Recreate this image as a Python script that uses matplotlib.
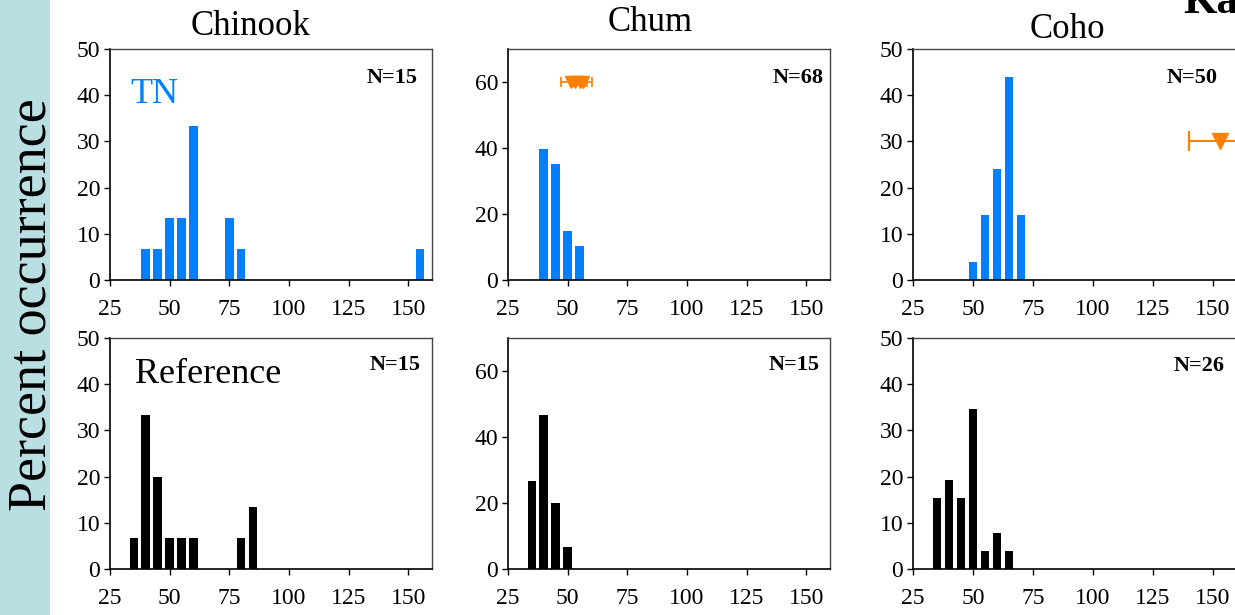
import matplotlib
matplotlib.use('Agg')
import matplotlib.pyplot as plt
from matplotlib.patches import Rectangle

plt.rcParams['font.family'] = ['Liberation Serif', 'DejaVu Serif']

W, H = 1235, 615
BLUE = '#0080ff'
ORANGE = '#ff8000'

# size classes (bin centres) and percent occurrence per species
chinook_tn_x = [40, 45, 50, 55, 60, 75, 80, 155]
chinook_tn_y = [6.67, 6.67, 13.33, 13.33, 33.33, 13.33, 6.67, 6.67]
chum_tn_x = [40, 45, 50, 55]
chum_tn_y = [39.7, 35.3, 14.7, 10.3]
coho_tn_x = [50, 55, 60, 65, 70]
coho_tn_y = [4, 14, 24, 44, 14]

chinook_ref_x = [35, 40, 45, 50, 55, 60, 80, 85]
chinook_ref_y = [6.67, 33.33, 20, 6.67, 6.67, 6.67, 6.67, 13.33]
chum_ref_x = [35, 40, 45, 50]
chum_ref_y = [26.67, 46.67, 20, 6.67]
coho_ref_x = [35, 40, 45, 50, 55, 60, 65]
coho_ref_y = [15.4, 19.2, 15.4, 34.6, 3.85, 7.7, 3.85]

n_tn = [15, 68, 50]
n_ref = [15, 15, 26]
species = ['Chinook', 'Chum', 'Coho']

# mean size +/- spread markers
chum_mean = [51.5, 53.0, 55.0, 56.5]
chum_err = [4.3, 2.0, 3.0, 3.8]
chum_level = [60, 60, 60, 60]
coho_mean = [153]
coho_err = [13]
coho_level = [30]

xticks = [25, 50, 75, 100, 125, 150]


def px(x, y):
    return x / W, 1 - y / H


def make_ax(fig, left, top, width, height):
    ax = fig.add_axes([left / W, 1 - (top + height) / H, width / W, height / H])
    ax.set_xlim(25, 160)
    ax.set_xticks(xticks)
    ax.tick_params(axis='both', direction='out', length=4, width=1, labelsize=17)
    ax.tick_params(axis='x', pad=10)
    ax.tick_params(axis='y', pad=3)
    ax.tick_params(top=False, right=False)
    for s in ['left', 'bottom']:
        ax.spines[s].set_linewidth(1.2)
        ax.spines[s].set_color('black')
    for s in ['top', 'right']:
        ax.spines[s].set_linewidth(1.0)
        ax.spines[s].set_color('#444444')
    return ax


fig = plt.figure(figsize=(W / 100, H / 100), dpi=100)

# side strip with the shared y label
fig.patches.append(Rectangle((0, 0), 50 / W, 1, transform=fig.transFigure,
                             facecolor='#b9dfe3', edgecolor='none', zorder=0))
fig.text(*px(32, 305), 'Percent occurrence', rotation=90, ha='center',
         va='center', fontsize=39)

lefts = [110, 508, 913]
widths = [322, 322, 324]
tops = [49, 338]
ah = 231

tn_data = [(chinook_tn_x, chinook_tn_y), (chum_tn_x, chum_tn_y), (coho_tn_x, coho_tn_y)]
ref_data = [(chinook_ref_x, chinook_ref_y), (chum_ref_x, chum_ref_y), (coho_ref_x, coho_ref_y)]
ylims = [50, 70, 50]
yticks = [[0, 10, 20, 30, 40, 50], [0, 20, 40, 60], [0, 10, 20, 30, 40, 50]]

axes_tn = []
axes_ref = []
for i in range(3):
    a = make_ax(fig, lefts[i], tops[0], widths[i], ah)
    a.bar(tn_data[i][0], tn_data[i][1], width=3.6, color=BLUE, edgecolor='none')
    a.set_ylim(0, ylims[i])
    a.set_yticks(yticks[i])
    axes_tn.append(a)

    b = make_ax(fig, lefts[i], tops[1], widths[i], ah)
    b.bar(ref_data[i][0], ref_data[i][1], width=3.6, color='black', edgecolor='none')
    b.set_ylim(0, ylims[i])
    b.set_yticks(yticks[i])
    axes_ref.append(b)

axes_tn[1].errorbar(chum_mean, chum_level, xerr=chum_err, fmt='v', color=ORANGE,
                    markersize=8, capsize=3.8, elinewidth=1.2, capthick=1.2)
axes_tn[2].errorbar(coho_mean, coho_level, xerr=coho_err, fmt='v', color=ORANGE,
                    markersize=11, capsize=7, elinewidth=1.5, capthick=1.5,
                    clip_on=False)

# species titles
title_pos = [(251, 35), (650, 31), (1067, 38)]
for name, (x, y) in zip(species, title_pos):
    fig.text(*px(x, y), name, ha='center', va='baseline', fontsize=25)

fig.text(*px(1183, 13), 'Ka', ha='left', va='baseline', fontsize=31,
         fontweight='bold')

fig.text(*px(130, 103), 'TN', ha='left', va='baseline', fontsize=26, color=BLUE)
fig.text(*px(135, 383), 'Reference', ha='left', va='baseline', fontsize=26)

# sample sizes
tn_n_pos = [(418, 83), (824, 83), (1218, 83)]
ref_n_pos = [(421, 370), (820, 370), (1225, 371)]
for n, (x, y) in zip(n_tn, tn_n_pos):
    fig.text(*px(x, y), 'N=%d' % n, ha='right', va='baseline', fontsize=16,
             fontweight='bold')
for n, (x, y) in zip(n_ref, ref_n_pos):
    fig.text(*px(x, y), 'N=%d' % n, ha='right', va='baseline', fontsize=16,
             fontweight='bold')

fig.savefig('out.png', dpi=100)
